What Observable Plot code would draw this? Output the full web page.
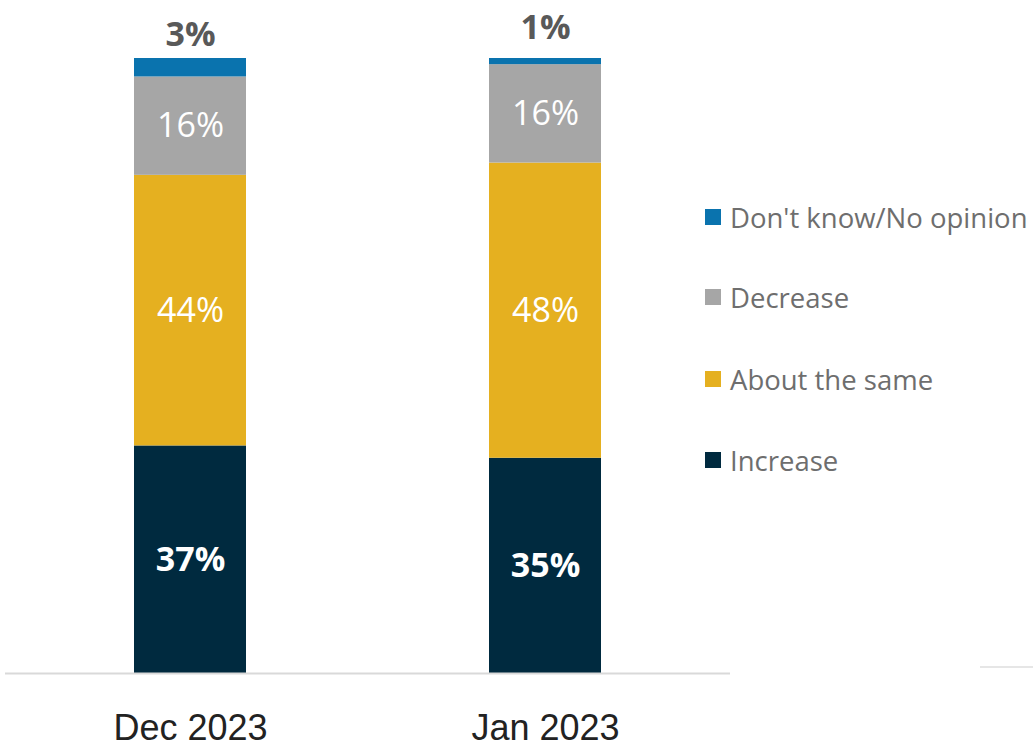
<!DOCTYPE html>
<html><head><meta charset="utf-8">
<script src="https://cdn.jsdelivr.net/npm/d3@7"></script>
<script src="https://cdn.jsdelivr.net/npm/@observablehq/plot@0.6"></script>
<style>
body{margin:0;background:#fff;}
#wrap{position:relative;width:1033px;height:747px;overflow:hidden;}
#legend{position:absolute;left:705px;top:0;font-family:"Open Sans",sans-serif;font-size:27.5px;color:#6e6e6e;}
.item{position:absolute;left:0;white-space:nowrap;display:flex;align-items:center;height:30px;}
.sw{width:16px;height:16px;margin-right:9px;}
#stub{position:absolute;left:980px;top:666px;width:53px;height:2px;background:#e6e6e6;}
</style></head>
<body><div id="wrap"><div id="legend"></div><div id="stub"></div></div>
<script>
const periods = ["Dec 2023", "Jan 2023"];
const series = ["Increase", "About the same", "Decrease", "Don't know/No opinion"];
const increase = [37, 35];
const aboutSame = [44, 48];
const decrease = [16, 16];
const dontKnow = [3, 1];
const colors = ["#002A3F", "#E5B020", "#A6A6A6", "#0A73AE"];
const legendOrder = ["Don't know/No opinion", "Decrease", "About the same", "Increase"];

const valuesBySeries = [increase, aboutSame, decrease, dontKnow];
const data = [];
series.forEach((s, i) => periods.forEach((p, j) => data.push({period: p, series: s, value: valuesBySeries[i][j]})));

const font = "Open Sans, sans-serif";
const stackOpts = {x: "period", y: "value", z: "series", order: series};
const lab = set => d => set.includes(d.series) ? d.value + "%" : null;

const chart = Plot.plot({
  width: 1033, height: 747,
  marginLeft: 5, marginRight: 303, marginTop: 58, marginBottom: 74,
  style: {fontFamily: font, background: "transparent"},
  x: {domain: periods, paddingInner: 0.6854, paddingOuter: 0.361, label: null},
  y: {domain: [0, 100], axis: null},
  color: {domain: series, range: colors},
  marks: [
    Plot.barY(data, Plot.stackY({...stackOpts, fill: "series"})),
    Plot.ruleY([0], {stroke: "#d9d9d9", strokeWidth: 2}),
    Plot.axisX({tickSize: 0, tickPadding: 41, fontSize: 36, fill: "#222", fontFamily: "Liberation Sans Narrow, sans-serif"}),
    Plot.text(data, Plot.stackY({...stackOpts, text: lab(["Increase"]), fill: "white", fontSize: 34, fontWeight: "bold"})),
    Plot.text(data, Plot.stackY({...stackOpts, text: lab(["About the same", "Decrease"]), fill: "white", fontSize: 34})),
    Plot.text(data, Plot.stackY({...stackOpts, text: lab(["Don't know/No opinion"]), fill: "#595959", fontSize: 34, fontWeight: "bold", dy: -33}))
  ]
});
document.getElementById("wrap").prepend(chart);

const legend = document.getElementById("legend");
const tops = [217, 297, 379, 460];
legendOrder.forEach((s, i) => {
  const el = document.createElement("div");
  el.className = "item";
  el.style.top = (tops[i] - 15) + "px";
  el.innerHTML = `<span class="sw" style="background:${colors[series.indexOf(s)]}"></span><span>${s}</span>`;
  legend.appendChild(el);
});
</script></body></html>
